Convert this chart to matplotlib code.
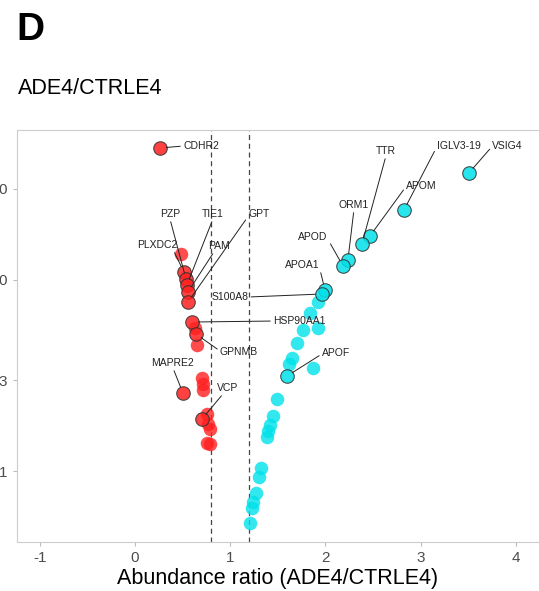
import matplotlib
matplotlib.use("Agg")
import matplotlib.pyplot as plt

plt.rcParams['font.family'] = ['Liberation Sans', 'DejaVu Sans']

# abundance ratio / significance for proteins below 0.8 (down) and above 1.2 (up)
down_ratio = [0.263, 0.483, 0.515, 0.536, 0.546, 0.557, 0.557, 0.599, 0.630, 0.641,
              0.651, 0.704, 0.714, 0.714, 0.504, 0.704, 0.756, 0.767, 0.788, 0.756, 0.790]
down_sig = [4.549, 3.385, 3.187, 3.110, 3.044, 2.967, 2.857, 2.637, 2.571, 2.505,
            2.385, 2.022, 1.956, 1.890, 1.857, 1.571, 1.626, 1.516, 1.462, 1.308, 1.300]
down_name = ['CDHR2', '', 'PLXDC2', 'PZP', 'TIE1', 'PAM', 'GPT', 'HSP90AA1', '', 'GPNMB',
             '', '', '', '', 'MAPRE2', 'VCP', '', '', '', '', '']

up_ratio = [3.508, 2.826, 2.468, 2.384, 2.237, 2.185, 1.996, 1.964, 1.922, 1.838,
            1.922, 1.765, 1.702, 1.649, 1.618, 1.870, 1.597, 1.492, 1.450, 1.418,
            1.397, 1.387, 1.324, 1.303, 1.271, 1.239, 1.229, 1.208]
up_sig = [4.275, 3.868, 3.582, 3.495, 3.319, 3.253, 2.989, 2.945, 2.857, 2.736,
          2.571, 2.549, 2.407, 2.242, 2.176, 2.132, 2.044, 1.791, 1.604, 1.505,
          1.440, 1.374, 1.033, 0.934, 0.758, 0.659, 0.593, 0.429]
up_name = ['VSIG4', 'IGLV3-19', 'APOM', 'TTR', 'ORM1', 'APOD', 'APOA1', 'S100A8', '', '',
           '', '', '', '', '', '', 'APOF', '', '', '', '', '', '', '', '', '', '', '']

# where each label sits: text x, y, horizontal alignment, anchor of the leader line on the text
label_pos = {
    'CDHR2': (0.505, 4.571, 'left', (0, 0.5)),
    'PLXDC2': (0.231, 3.484, 'center', (0.9, 0.0)),
    'PZP': (0.368, 3.824, 'center', (0.5, 0.0)),
    'TIE1': (0.819, 3.824, 'center', (0.5, 0.0)),
    'PAM': (0.882, 3.473, 'center', (0.3, 0.0)),
    'GPT': (1.303, 3.824, 'center', (0.0, 0.3)),
    'HSP90AA1': (1.450, 2.648, 'left', (0, 0.5)),
    'GPNMB': (0.893, 2.308, 'left', (0, 0.6)),
    'MAPRE2': (0.399, 2.187, 'center', (0.5, 0.0)),
    'VCP': (0.977, 1.912, 'center', (0.3, 0.0)),
    'APOF': (1.964, 2.297, 'left', (0, 0.4)),
    'S100A8': (0.998, 2.912, 'center', (1.0, 0.5)),
    'APOA1': (1.755, 3.264, 'center', (1.0, 0.3)),
    'APOD': (1.870, 3.572, 'center', (1.0, 0.3)),
    'ORM1': (2.300, 3.924, 'center', (0.5, 0.0)),
    'TTR': (2.636, 4.516, 'center', (0.5, 0.0)),
    'APOM': (2.850, 4.130, 'left', (0, 0.5)),
    'IGLV3-19': (3.175, 4.571, 'left', (0, 0.5)),
    'VSIG4': (3.755, 4.571, 'left', (0, 0.5)),
}

x_ticks = [-1, 0, 1, 2, 3, 4]
y_ticks = [1.0, 2.0, 3.1, 4.1]
y_ticklabels = ['1', '3', '0', '0']
cutoffs = [0.8, 1.2]

red = '#ff2020'
cyan = '#00e1ea'

fig = plt.figure(figsize=(5.39, 5.91), dpi=100)
ax = fig.add_axes([17 / 539, 1 - 542 / 591, 1 - 17 / 539, 412 / 591])

for r, s, names, col in [(down_ratio, down_sig, down_name, red),
                         (up_ratio, up_sig, up_name, cyan)]:
    plain = [i for i, n in enumerate(names) if not n]
    named = [i for i, n in enumerate(names) if n]
    ax.scatter([r[i] for i in plain], [s[i] for i in plain], s=95, color=col,
               alpha=0.8, linewidths=0, zorder=3)
    ax.scatter([r[i] for i in named], [s[i] for i in named], s=95, color=col,
               alpha=0.85, edgecolors='#333333', linewidths=0.8, zorder=4)
    for i in named:
        tx, ty, ha, rp = label_pos[names[i]]
        ax.annotate(names[i], xy=(r[i], s[i]), xytext=(tx, ty), ha=ha, va='center',
                    fontsize=7.5, color='#222222', zorder=5,
                    arrowprops=dict(arrowstyle='-', color='#222222', lw=0.7,
                                    shrinkA=0, shrinkB=4.5, relpos=rp))

for c in cutoffs:
    ax.axvline(c, color='#444444', lw=0.9, ls=(0, (4, 3)), zorder=2)

ax.set_xlim(-1.239, 4.244)
ax.set_ylim(0.22, 4.747)
ax.set_xticks(x_ticks)
ax.set_xticklabels([str(t) for t in x_ticks])
ax.set_yticks(y_ticks)
ax.set_yticklabels(y_ticklabels)
ax.tick_params(colors='#bbbbbb', labelcolor='#4d4d4d', labelsize=11, length=3, width=0.8)
ax.tick_params(axis='y', pad=4)
ax.set_xlabel('Abundance ratio (ADE4/CTRLE4)', fontsize=15.5, color='black', labelpad=2)
for side in ['left', 'bottom', 'top']:
    ax.spines[side].set_color('#cccccc')
    ax.spines[side].set_linewidth(0.8)
ax.spines['right'].set_visible(False)

fig.text(16 / 539, 1 - 30 / 591, 'D', fontsize=28, fontweight='bold', va='center')
fig.text(18 / 539, 1 - 88 / 591, 'ADE4/CTRLE4', fontsize=15.5, va='center')

fig.savefig('out.png', dpi=100)
